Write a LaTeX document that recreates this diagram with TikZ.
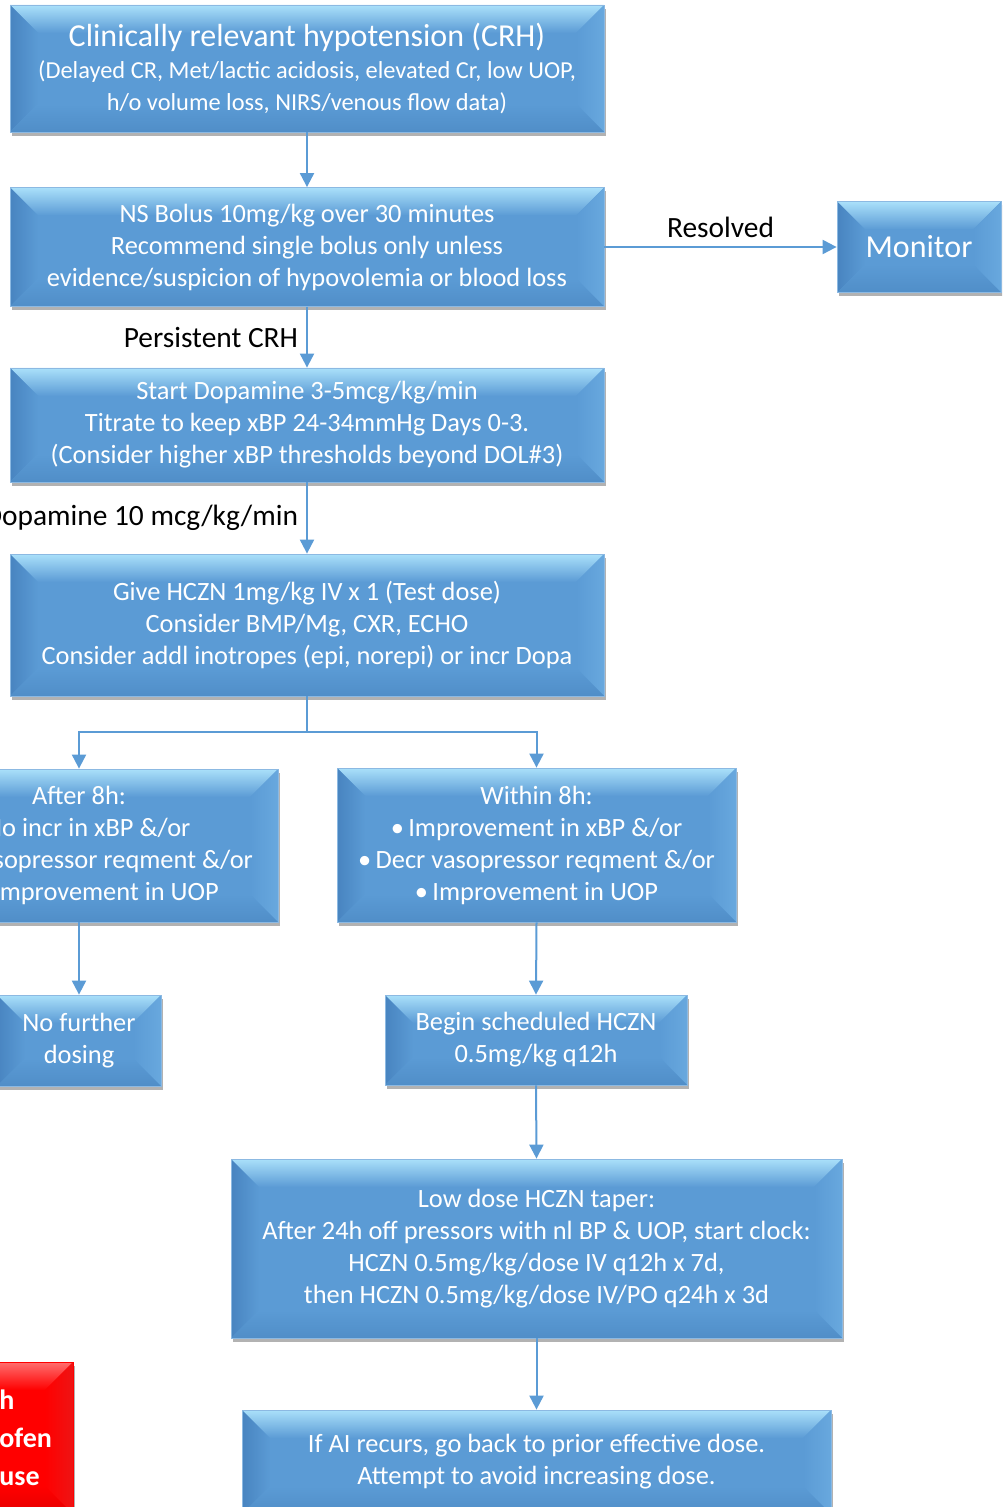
\documentclass[tikz,border=0pt]{standalone}
\usepackage{fontspec}
\setmainfont{Carlito}
\usetikzlibrary{arrows.meta,shadows}

\definecolor{boxblue}{RGB}{91,155,213}
\definecolor{boxtop}{RGB}{170,224,250}
\definecolor{boxleft}{RGB}{72,132,192}
\definecolor{boxright}{RGB}{104,168,222}
\definecolor{boxbot}{RGB}{80,142,200}
\definecolor{boxred}{RGB}{255,0,0}
\definecolor{redtop}{RGB}{255,110,110}
\definecolor{redleft}{RGB}{225,0,0}
\definecolor{redright}{RGB}{238,20,20}
\definecolor{redbot}{RGB}{230,0,0}

% bevelled face: main, top, left, right, bottom
\newcommand\bevelface[5]{%
  \coordinate (bnw) at (path picture bounding box.north west);
  \coordinate (bne) at (path picture bounding box.north east);
  \coordinate (bsw) at (path picture bounding box.south west);
  \coordinate (bse) at (path picture bounding box.south east);
  \fill[#1] (bnw) rectangle (bse);
  \shade[top color=#2,bottom color=#1] (bnw) -- (bne) -- ([shift={(-14pt,-14pt)}]bne) -- ([shift={(14pt,-14pt)}]bnw) -- cycle;
  \shade[left color=#3,right color=#1] (bnw) -- ([shift={(14pt,-14pt)}]bnw) -- ([shift={(14pt,14pt)}]bsw) -- (bsw) -- cycle;
  \shade[left color=#1,right color=#4] (bne) -- ([shift={(-14pt,-14pt)}]bne) -- ([shift={(-14pt,14pt)}]bse) -- (bse) -- cycle;
  \shade[top color=#1,bottom color=#5] (bsw) -- ([shift={(14pt,14pt)}]bsw) -- ([shift={(-14pt,14pt)}]bse) -- (bse) -- cycle;
}

\tikzset{
  block/.style={rectangle, fill=boxblue, draw=boxblue!70!white, line width=0.4pt,
    text=white, align=center, inner sep=0pt, font=\fontsize{13.2}{16}\selectfont,
    drop shadow={shadow xshift=0.8pt, shadow yshift=-2pt, opacity=0.3, fill=black},
    path picture={\bevelface{boxblue}{boxtop}{boxleft}{boxright}{boxbot}}},
  redblock/.style={block, fill=boxred, draw=boxred,
    path picture={\bevelface{boxred}{redtop}{redleft}{redright}{redbot}}},
  arrow/.style={draw=boxblue, line width=1pt, -{Triangle[width=7pt,length=7pt]}},
  lbl/.style={text=black, inner sep=4pt, font=\fontsize{14.7}{17}\selectfont}
}

\begin{document}
\begin{tikzpicture}[x=0.5pt,y=-0.5pt]
\useasboundingbox (0,0) rectangle (1002,1507);
\clip (0,0) rectangle (1002,1507);

%Main column
\node[block, minimum width=297pt, minimum height=63.5pt](crh) at (307,68.5)
  {{\fontsize{16}{16.5}\selectfont Clinically relevant hypotension (CRH)}\\
   {\fontsize{12.2}{14.5}\selectfont (Delayed CR, Met/lactic acidosis, elevated Cr, low UOP,}\\
   {\fontsize{12.2}{14.5}\selectfont h/o volume loss, NIRS/venous flow data)}};
\node[block, minimum width=297pt, minimum height=59.5pt](bolus) at (307,247)
  {NS Bolus 10mg/kg over 30 minutes\\Recommend single bolus only unless\\evidence/suspicion of hypovolemia or blood loss};
\node[block, minimum width=82pt, minimum height=45.5pt, font=\fontsize{16}{18}\selectfont](monitor) at (919,247){Monitor};
\node[block, minimum width=297pt, minimum height=57pt](dopa) at (307,425)
  {Start Dopamine 3-5mcg/kg/min\\Titrate to keep xBP 24-34mmHg Days 0-3.\\(Consider higher xBP thresholds beyond DOL\#3)};
\node[block, minimum width=297pt, minimum height=71pt](test) at (307,625)
  {Give HCZN 1mg/kg IV x 1 (Test dose)\\Consider BMP/Mg, CXR, ECHO\\Consider addl inotropes (epi, norepi) or incr Dopa};

%Two branches
\node[block, minimum width=199pt, minimum height=76.5pt](after) at (79,845.5)
  {After 8h:\\•\,No incr in xBP \&/or\\•\,Incr vasopressor reqment \&/or\\•\,No improvement in UOP};
\node[block, minimum width=199.5pt, minimum height=77pt](within) at (536.5,845)
  {Within 8h:\\•\,Improvement in xBP \&/or\\•\,Decr vasopressor reqment \&/or\\•\,Improvement in UOP};
\node[block, minimum width=82pt, minimum height=45.5pt](nofurther) at (79,1040.5){No further\\dosing};
\node[block, minimum width=151pt, minimum height=45pt](sched) at (536,1040){Begin scheduled HCZN\\0.5mg/kg q12h};
\node[block, minimum width=305.5pt, minimum height=89.5pt](taper) at (536.5,1248.5)
  {Low dose HCZN taper:\\After 24h off pressors with nl BP \& UOP, start clock:\\HCZN 0.5mg/kg/dose IV q12h x 7d,\\then HCZN 0.5mg/kg/dose IV/PO q24h x 3d};
\node[block, minimum width=294.5pt, minimum height=52pt](recur) at (536.5,1462)
  {If AI recurs, go back to prior effective dose.\\Attempt to avoid increasing dose.};

%Red note, cut at the edge
\node[redblock, minimum width=150pt, minimum height=76pt](nsaid) at (-77,1438){};
\node[anchor=west, align=left, text=white, inner sep=0pt, font=\bfseries\fontsize{14}{19}\selectfont](nsaidtxt) at (-1,1438){h\\ofen\\use};

%Connectors
\draw[arrow] (crh.south) -- (bolus.north);
\draw[arrow] (bolus.east) -- (monitor.west) node[midway,above,lbl]{Resolved};
\draw[arrow] (bolus.south) -- (dopa.north) node[midway,left,lbl]{Persistent CRH};
\draw[arrow] (test.north |- dopa.south) -- (test.north) node[midway,left,lbl]{Dopamine 10 mcg/kg/min};
\draw[draw=boxblue, line width=1pt] (test.south) -- ++(0,36) coordinate (split);
\draw[arrow] (split) -| (after.north);
\draw[arrow] (split) -| (within.north);
\draw[arrow] (after.south) -- (nofurther.north);
\draw[arrow] (within.south) -- (sched.north);
\draw[arrow] (sched.south) -- (taper.north);
\draw[arrow] (taper.south) -- (recur.north);

\end{tikzpicture}
\end{document}
